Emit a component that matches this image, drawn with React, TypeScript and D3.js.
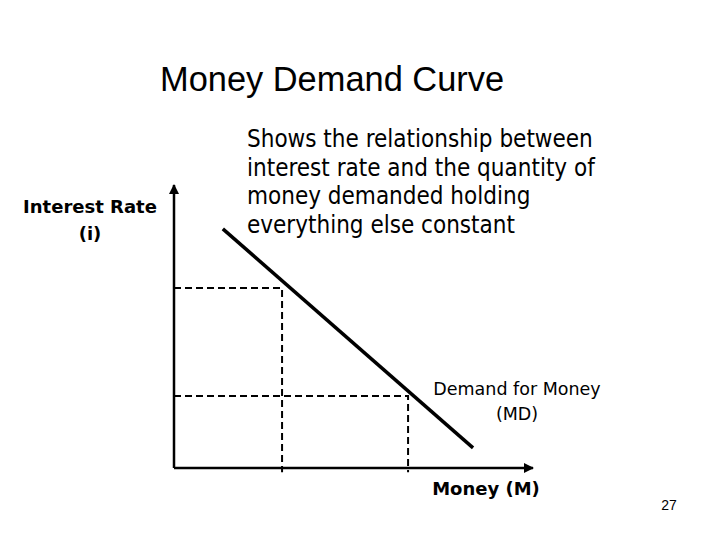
import React from 'react';
import * as d3 from 'd3';

// chart values (arbitrary units, 0..100 on both axes)
const demandCurve = [
  { money: 13.6, rate: 84.5 },
  { money: 83.3, rate: 7.1 },
];
const guidePoints = [
  { money: 30.1, rate: 63.6 },
  { money: 65.2, rate: 25.4 },
];
const title = 'Money Demand Curve';
const descLines = [
  'Shows the relationship between',
  'interest rate and the quantity of',
  'money demanded holding',
  'everything else constant',
];
const yLabel = ['Interest Rate', '(i)'];
const xLabel = 'Money (M)';
const curveLabel = ['Demand for Money', '(MD)'];
const pageNum = '27';

const W = 720;
const H = 540;
const body = 'Tahoma, "DejaVu Sans", Verdana, sans-serif';

const App = () => {
  const x = d3.scaleLinear().domain([0, 100]).range([174, 533]);
  const y = d3.scaleLinear().domain([0, 100]).range([468, 185]);

  const line = d3
    .line<{ money: number; rate: number }>()
    .x(d => x(d.money))
    .y(d => y(d.rate));

  const x0 = x(0);
  const y0 = y(0);

  return (
    <svg width={W} height={H} style={{ position: 'absolute', left: 0, top: 0, background: '#fff' }}>
      <defs>
        <marker id="arr" viewBox="0 0 10 10" refX="9" refY="5" markerWidth="4" markerHeight="4" orient="auto">
          <path d="M0,0 L10,5 L0,10 z" fill="#000" />
        </marker>
      </defs>

      <text x={160} y={91} fontFamily='"Liberation Sans", Arial, sans-serif' fontSize={34.4} fill="#000">
        {title}
      </text>

      {descLines.map((t, i) => (
        <text key={t} x={247} y={147 + i * 28.5} fontFamily={body} fontSize={24} fontStretch="condensed" fill="#000">
          {t}
        </text>
      ))}

      {yLabel.map((t, i) => (
        <text key={t} x={90} y={213 + i * 27} textAnchor="middle" fontFamily={body} fontWeight="bold" fontSize={18} fill="#000">
          {t}
        </text>
      ))}

      {/* dashed guides */}
      {guidePoints.map((p, i) => (
        <path
          key={i}
          d={`M${x0},${y(p.rate)} H${x(p.money)} V${y(-1.5)}`}
          fill="none"
          stroke="#000"
          strokeWidth={2}
          strokeDasharray="7,4"
        />
      ))}

      {/* axes */}
      <line x1={x0} y1={y0} x2={x0} y2={y(100)} stroke="#000" strokeWidth={2.5} markerEnd="url(#arr)" />
      <line x1={x0} y1={y0} x2={x(100)} y2={y0} stroke="#000" strokeWidth={2.5} markerEnd="url(#arr)" />

      <path d={line(demandCurve) ?? ''} fill="none" stroke="#000" strokeWidth={3.5} />

      {curveLabel.map((t, i) => (
        <text key={t} x={517} y={395 + i * 25} textAnchor="middle" fontFamily={body} fontSize={17.5} fill="#000">
          {t}
        </text>
      ))}

      <text x={486} y={495} textAnchor="middle" fontFamily={body} fontWeight="bold" fontSize={18} fill="#000">
        {xLabel}
      </text>

      <text x={669} y={510} textAnchor="middle" fontFamily='"Liberation Sans", Arial, sans-serif' fontSize={14} fill="#000">
        {pageNum}
      </text>
    </svg>
  );
};

export default App;
